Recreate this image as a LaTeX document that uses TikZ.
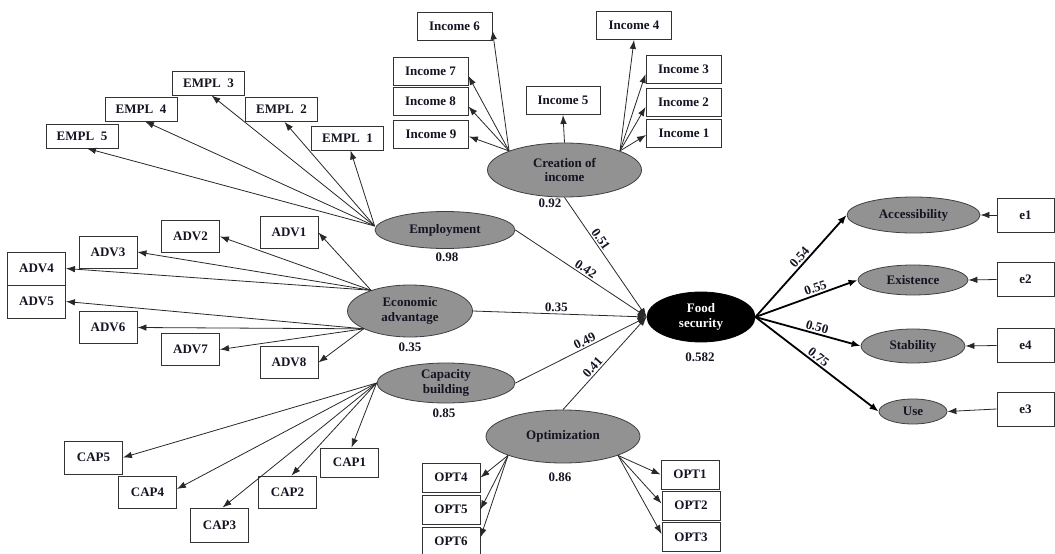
\documentclass[tikz,border=0pt]{standalone}
\usepackage{fontspec}
\setmainfont{Liberation Serif}
\usetikzlibrary{shapes.geometric,arrows.meta}
\definecolor{latgray}{RGB}{146,146,146}
\definecolor{linegray}{RGB}{40,40,40}
\definecolor{txtdark}{RGB}{20,20,35}
\newcommand\dgfont{\fontsize{13}{14.5}\selectfont\bfseries}
\begin{document}
\begin{tikzpicture}[x=1pt,y=-1pt,
  box/.style={draw=black!80, line width=0.9pt, fill=white, inner sep=0pt, font=\dgfont, text=txtdark},
  embox/.style={box, minimum width=72pt, minimum height=24pt},
  inbox/.style={box, minimum width=75pt, minimum height=28pt},
  sbox/.style={box, minimum width=58pt, minimum height=32pt},
  obox/.style={box, minimum width=58pt, minimum height=29pt},
  ebox/.style={box, minimum width=57pt, minimum height=34pt},
  lat/.style={ellipse, draw=black!75, line width=0.8pt, fill=latgray, inner sep=0pt, align=center, font=\dgfont, text=txtdark},
  ld/.style={draw=linegray, line width=0.8pt, -{Latex[length=9pt,width=6.5pt]}},
  hd/.style={draw=black, line width=1.8pt, -{Latex[length=9pt,width=7pt]}},
  lbl/.style={font=\dgfont, text=txtdark, sloped, above, inner sep=1.5pt},
  val/.style={font=\dgfont, text=txtdark}
]
\useasboundingbox (0,0) rectangle (1055,554);

% ---------- latent variables ----------
\node[lat, minimum width=154pt, minimum height=54pt] (CI) at (564.5,170) {Creation of\\income};
\node[lat, minimum width=140pt, minimum height=37pt] (EMP) at (445,230) {Employment};
\node[lat, minimum width=125pt, minimum height=52pt] (EA) at (410,311) {Economic\\advantage};
\node[lat, minimum width=138pt, minimum height=40pt] (CB) at (446,383) {Capacity\\building};
\node[lat, minimum width=154pt, minimum height=53pt] (OP) at (563,436.5) {Optimization};
\node[lat, fill=black, draw=black, text=white, minimum width=108pt, minimum height=50pt] (FS) at (701,317) {Food\\security};
\node[lat, minimum width=133pt, minimum height=36pt] (Acc) at (913.5,215) {Accessibility};
\node[lat, minimum width=110pt, minimum height=30pt] (Ex) at (913,280) {Existence};
\node[lat, minimum width=104pt, minimum height=34pt] (St) at (913,346) {Stability};
\node[lat, minimum width=68pt, minimum height=25pt] (Us) at (913,411.5) {Use};

% ---------- value labels ----------
\node[val] (v92) at (550,203) {0.92};
\node[val] (v98) at (447,257) {0.98};
\node[val] (v35) at (410,347) {0.35};
\node[val] (v85) at (444,413) {0.85};
\node[val] (v86) at (560,477) {0.86};
\node[val] (v582) at (700,357) {0.582};

% ---------- EMPL boxes ----------
\node[embox] (E3) at (208.5,83) {EMPL\ \ 3};
\node[embox] (E4) at (141,109) {EMPL\ \ 4};
\node[embox] (E2) at (281.5,109.5) {EMPL\ \ 2};
\node[embox] (E5) at (82,136) {EMPL\ \ 5};
\node[embox] (E1) at (347.5,138) {EMPL\ \ 1};

% ---------- Income boxes ----------
\node[inbox] (I6) at (454.5,26) {Income 6};
\node[inbox] (I7) at (430.5,71) {Income 7};
\node[inbox] (I8) at (430.5,101.5) {Income 8};
\node[inbox] (I9) at (431,134.5) {Income 9};
\node[inbox, minimum width=74pt] (I5) at (563,100.5) {Income 5};
\node[inbox] (I4) at (634,25.5) {Income 4};
\node[inbox] (I3) at (683.5,69) {Income 3};
\node[inbox] (I2) at (683.5,102) {Income 2};
\node[inbox] (I1) at (684,133) {Income 1};

% ---------- ADV boxes ----------
\node[sbox] (A1) at (289,232.5) {ADV1};
\node[sbox] (A2) at (190.5,236.5) {ADV2};
\node[sbox] (A3) at (108,252) {ADV3};
\node[sbox, minimum height=33pt] (A4) at (36.5,268.5) {ADV4};
\node[sbox, minimum height=33pt] (A5) at (36.5,301.5) {ADV5};
\node[sbox] (A6) at (108,327.5) {ADV6};
\node[sbox] (A7) at (190.5,349.5) {ADV7};
\node[sbox] (A8) at (289,362.5) {ADV8};

% ---------- CAP boxes ----------
\node[sbox, minimum height=33pt] (C5) at (93.5,457.5) {CAP5};
\node[sbox] (C4) at (147.5,492) {CAP4};
\node[sbox, minimum height=34pt] (C3) at (219.5,525) {CAP3};
\node[sbox] (C2) at (287.5,492) {CAP2};
\node[sbox, minimum height=29pt] (C1) at (349.5,462.5) {CAP1};

% ---------- OPT boxes ----------
\node[obox] (O4) at (451,477.5) {OPT4};
\node[obox] (O5) at (451,509.5) {OPT5};
\node[obox] (O6) at (451,541.5) {OPT6};
\node[obox] (O1) at (690,474.5) {OPT1};
\node[obox] (O2) at (691,505.5) {OPT2};
\node[obox] (O3) at (691,537) {OPT3};

% ---------- e boxes ----------
\node[ebox] (e1) at (1025.5,215) {e1};
\node[ebox] (e2) at (1025.5,279.5) {e2};
\node[ebox] (e4) at (1025.5,345.5) {e4};
\node[ebox] (e3) at (1025.5,409) {e3};

% ---------- Employment indicators ----------
\draw[ld] ([yshift=4pt]EMP.west) -- ([xshift=5pt]E5.south);
\draw[ld] ([yshift=4pt]EMP.west) -- ([xshift=4pt]E4.south);
\draw[ld] ([yshift=4pt]EMP.west) -- ([xshift=3pt]E3.south);
\draw[ld] ([yshift=4pt]EMP.west) -- ([xshift=3pt]E2.south);
\draw[ld] ([yshift=4pt]EMP.west) -- ([xshift=3pt]E1.south);

% ---------- Income indicators ----------
\draw[ld] (CI.161) -- ([yshift=10pt]I6.south east);
\draw[ld] (CI.161) -- ([yshift=-5pt]I7.east);
\draw[ld] (CI.161) -- ([yshift=-5pt]I8.east);
\draw[ld] (CI.161) -- ([yshift=-2pt]I9.east);
\draw[ld] (CI.north) -- (I5.south);
\draw[ld] (CI.19) -- (I4.south);
\draw[ld] (CI.19) -- ([yshift=-5pt]I3.west);
\draw[ld] (CI.19) -- ([yshift=-5pt]I2.west);
\draw[ld] (CI.19) -- ([yshift=-2pt]I1.west);

% ---------- ADV indicators ----------
\draw[ld] (EA.152) -- (A1.east);
\draw[ld] (EA.152) -- (A2.east);
\draw[ld] (EA.152) -- (A3.east);
\draw[ld] (EA.152) -- (A4.east);
\draw[ld] (EA.201) -- (A5.east);
\draw[ld] (EA.201) -- (A6.east);
\draw[ld] (EA.201) -- (A7.east);
\draw[ld] (EA.201) -- (A8.east);

% ---------- CAP indicators ----------
\draw[ld] (CB.west) -- (C5.east);
\draw[ld] (CB.west) -- ([yshift=3pt]C4.east);
\draw[ld] (CB.west) -- ([xshift=3pt]C3.north);
\draw[ld] (CB.west) -- ([xshift=4pt]C2.north);
\draw[ld] (CB.west) -- ([xshift=2pt]C1.north);

% ---------- OPT indicators ----------
\draw[ld] (OP.199) -- (O4.east);
\draw[ld] (OP.199) -- (O5.east);
\draw[ld] (OP.199) -- ([yshift=4pt]O6.east);
\draw[ld] (OP.341) -- (O1.west);
\draw[ld] (OP.341) -- ([yshift=2pt]O2.west);
\draw[ld] (OP.341) -- ([yshift=3pt]O3.west);

% ---------- structural paths ----------
\draw[ld] (CI.south) -- node[lbl,pos=0.38] (l51) {0.51} (FS.west);
\draw[ld] (EMP.east) -- node[lbl,pos=0.51] (l42) {0.42} (FS.west);
\draw[ld] (EA.east) -- node[lbl,pos=0.48] (l35) {0.35} (FS.west);
\draw[ld] (CB.east) -- node[lbl,pos=0.55] (l49) {0.49} (FS.west);
\draw[ld] (OP.north) -- node[lbl,pos=0.41] (l41) {0.41} (FS.west);

\draw[hd] (FS.east) -- node[lbl,pos=0.54] (l54) {0.54} (Acc.west);
\draw[hd] (FS.east) -- node[lbl,pos=0.61] (l55) {0.55} (Ex.west);
\draw[hd] (FS.east) -- node[lbl,pos=0.57] (l50) {0.50} (St.west);
\draw[hd] (FS.east) -- node[lbl,pos=0.48] (l75) {0.75} (Us.west);

% ---------- error terms ----------
\draw[ld] (e1.west) -- (Acc.east);
\draw[ld] (e2.west) -- (Ex.east);
\draw[ld] (e4.west) -- (St.east);
\draw[ld] (e3.west) -- (Us.east);
\end{tikzpicture}
\end{document}
